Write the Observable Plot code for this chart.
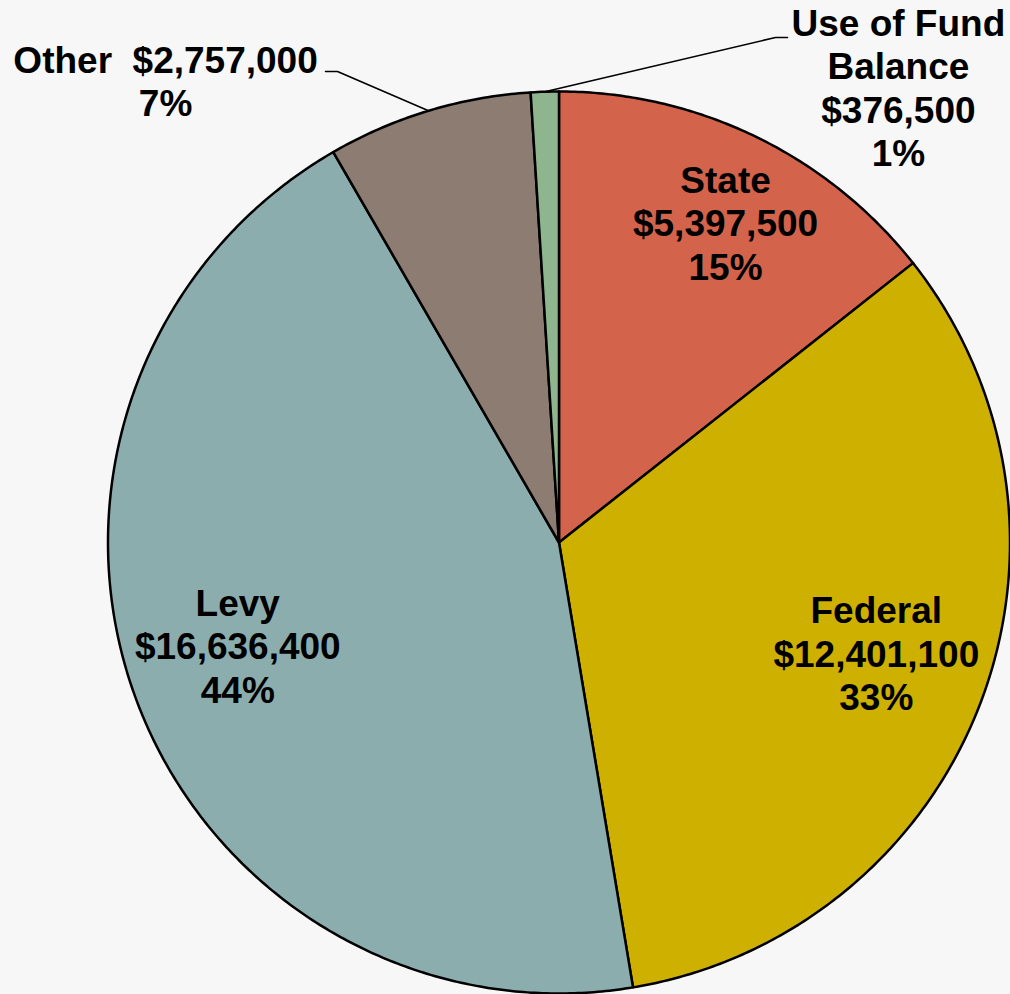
<!DOCTYPE html>
<html>
<head>
<meta charset="utf-8">
<script src="https://cdn.jsdelivr.net/npm/d3@7"></script>
<script src="https://cdn.jsdelivr.net/npm/@observablehq/plot@0.6"></script>
<style>
  html, body { margin: 0; padding: 0; background: #f7f7f7; }
  #chart svg { display: block; }
</style>
</head>
<body>
<div id="chart"></div>
<script>
// ---- data ----
const categories = ["State", "Federal", "Levy", "Other", "Use of Fund Balance"];
const amounts = [5397500, 12401100, 16636400, 2757000, 376500];
const pctLabels = ["15%", "33%", "44%", "7%", "1%"];
const nameLabels = ["State", "Federal", "Levy", "Other\u00a0 ", "Use of Fund\nBalance"];
const colors = ["#d3644b", "#ceb100", "#8cadad", "#8c7c71", "#8fb58f"];

// ---- layout (not data) ----
const W = 1010, H = 994;
const cx = 558.5, cy = 542, R = 451;
// label placement: radius factor and angle offset (deg) from slice mid-angle
const labelLayout = {
  "State": {r: 0.800, da: 1.63},
  "Federal": {r: 0.745, da: -1.95},
  "Levy": {r: 0.748, da: 1.95},
  "Other": {r: 1.345, da: -23.62},
  "Use of Fund Balance": {r: 1.259, da: 38.51}
};
// leader line elbows in pixels (label side)
const leaderLayout = {
  "Other": [[325, 71], [337, 71]],
  "Use of Fund Balance": [[787, 37], [775, 37]]
};
const toU = (px) => (px - cx) / R;
const toV = (py) => (cy - py) / R;

const total = d3.sum(amounts);
const fmt = d3.format("$,");

// slices (clockwise from 12 o'clock)
let cum = 0;
const slices = categories.map((c, i) => {
  const a0 = cum / total * 360;
  cum += amounts[i];
  const a1 = cum / total * 360;
  return {category: c, a0, a1, mid: (a0 + a1) / 2, i};
});

const rad = (deg) => deg * Math.PI / 180;
const polyPoints = [];
for (const s of slices) {
  polyPoints.push({category: s.category, x: 0, y: 0});
  const n = Math.max(2, Math.ceil((s.a1 - s.a0) / 0.5));
  for (let k = 0; k <= n; k++) {
    const a = rad(s.a0 + (s.a1 - s.a0) * k / n);
    polyPoints.push({category: s.category, x: Math.sin(a), y: Math.cos(a)});
  }
}

const labels = slices.map(s => {
  const L = labelLayout[s.category];
  const a = rad(s.mid + L.da);
  const name = nameLabels[s.i];
  let text;
  if (s.category === "Other") text = name + fmt(amounts[s.i]) + "\n" + pctLabels[s.i];
  else text = name + "\n" + fmt(amounts[s.i]) + "\n" + pctLabels[s.i];
  return {x: L.r * Math.sin(a), y: L.r * Math.cos(a), text};
});

const leaders = [];
for (const s of slices) {
  const pts = leaderLayout[s.category];
  if (!pts) continue;
  for (const [px, py] of pts) leaders.push({category: s.category, x: toU(px), y: toV(py)});
  const a = rad(s.mid);
  leaders.push({category: s.category, x: Math.sin(a), y: Math.cos(a)});
}

const chart = Plot.plot({
  width: W,
  height: H,
  margin: 0,
  x: {domain: [toU(0), toU(W)], axis: null},
  y: {domain: [toV(H), toV(0)], axis: null},
  color: {domain: categories, range: colors},
  style: {background: "#f7f7f7", overflow: "visible"},
  marks: [
    Plot.line(polyPoints, {
      x: "x", y: "y", z: "category", fill: "category",
      stroke: "black", strokeWidth: 2.5, strokeLinejoin: "round",
      curve: "linear-closed"
    }),
    Plot.line(leaders, {x: "x", y: "y", z: "category", stroke: "black", strokeWidth: 1.6}),
    Plot.text(labels, {
      x: "x", y: "y", text: "text",
      fontSize: 37, fontWeight: "bold",
      fontFamily: "'Liberation Sans', Arial, sans-serif",
      lineHeight: 1.176, fill: "black", textAnchor: "middle"
    })
  ]
});
document.getElementById("chart").appendChild(chart);
</script>
</body>
</html>
